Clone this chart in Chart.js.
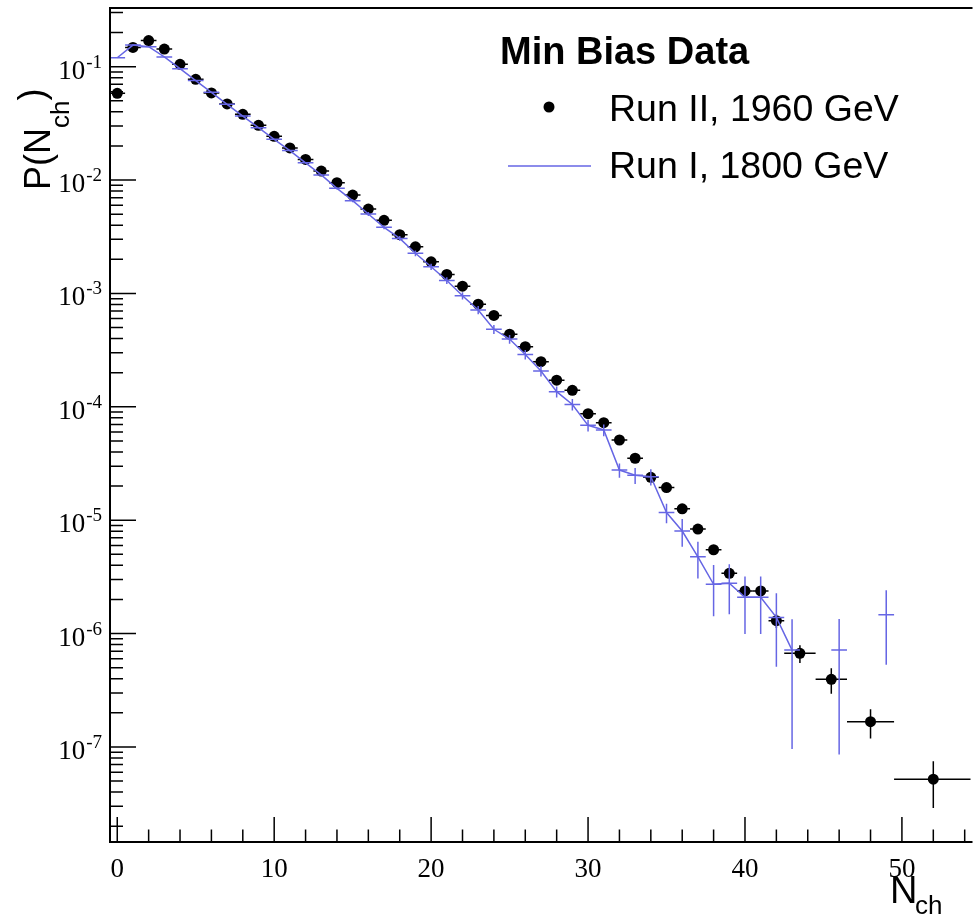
<!DOCTYPE html>
<html lang="en">
<head>
<meta charset="UTF-8">
<title>P(Nch) - Min Bias Data</title>
<script src="https://cdn.jsdelivr.net/npm/chart.js"></script>
<style>
  body, html { margin: 0; padding: 0; background: #fff; }
  #plot { display: block; }
</style>
</head>
<body>
<canvas id="plot" width="976" height="916"></canvas>
<script>
// Run II, 1960 GeV (black dots) - bin centres, values, half bin widths, errors
var runIIx = [0,1,2,3,4,5,6,7,8,9,10,11,12,13,14,15,16,17,18,19,20,21,22,23,24,25,26,27,28,29,30,31,32,33,34,35,36,37,38,39,40,41,42,43.5,45.5,48,52];
var runIIy = [0.0582,0.148,0.170,0.143,0.105,0.0774,0.0587,0.0469,0.0380,0.0304,0.0243,0.0192,0.0152,0.0120,0.00949,0.00738,0.00555,0.00442,0.00330,0.00258,0.00190,0.00147,0.00116,0.000805,0.00064,0.000437,0.000339,0.000250,0.000172,0.000140,8.7e-5,7.25e-5,5.1e-5,3.52e-5,2.39e-5,1.94e-5,1.26e-5,8.36e-6,5.49e-6,3.40e-6,2.38e-6,2.38e-6,1.30e-6,6.7e-7,3.95e-7,1.67e-7,5.2e-8];
var runIIxErr = [0.5,0.5,0.5,0.5,0.5,0.5,0.5,0.5,0.5,0.5,0.5,0.5,0.5,0.5,0.5,0.5,0.5,0.5,0.5,0.5,0.5,0.5,0.5,0.5,0.5,0.5,0.5,0.5,0.5,0.5,0.5,0.5,0.5,0.5,0.5,0.5,0.5,0.5,0.5,0.5,0.5,0.5,0.5,1,1,1.5,2.5];
var runIIyErr = [0,0,0,0,0,0,0,0,0,0,0,0,0,0,0,0,0,0,0,0,0,0,0,0,0,0,0,0,0,0,0,0,0,0,0,0,0,0,3e-7,3e-7,2.5e-7,2.5e-7,1.8e-7,1.2e-7,1.0e-7,4.8e-8,2.3e-8];

// Run I, 1800 GeV (blue line), empty bins are null
var runIx = [0,1,2,3,4,5,6,7,8,9,10,11,12,13,14,15,16,17,18,19,20,21,22,23,24,25,26,27,28,29,30,31,32,33,34,35,36,37,38,39,40,41,42,43,44,45,46,47,48,49];
var runIy = [0.120,0.155,0.150,0.122,0.096,0.0755,0.0594,0.0466,0.0367,0.0290,0.0229,0.0182,0.0142,0.0111,0.00846,0.00658,0.00502,0.00383,0.00306,0.00226,0.00172,0.00130,0.000955,0.000715,0.000483,0.000396,0.000290,0.000207,0.000136,0.000105,6.87e-5,6.25e-5,2.77e-5,2.49e-5,2.42e-5,1.17e-5,8.03e-6,4.76e-6,2.72e-6,2.78e-6,2.09e-6,2.09e-6,1.39e-6,7.16e-7,null,null,7.16e-7,null,null,1.47e-6];
var runIyErr = [0,0,0,0,0,0,0,0,0,0,0,0,0,2e-4,2e-4,2e-4,2e-4,1.5e-4,1.5e-4,1.3e-4,1.1e-4,9e-5,7e-5,6e-5,4.5e-5,3.5e-5,2.8e-5,2.2e-5,1.5e-5,1.2e-5,8e-6,7.5e-6,4e-6,4e-6,4e-6,2.3e-6,2.2e-6,1.7e-6,1.3e-6,1.3e-6,1.1e-6,1.1e-6,8.8e-7,6.2e-7,0,0,6.3e-7,0,0,9.4e-7];
var runIxErr = 0.5;

// axis ticks
var xMajorTicks = [0,10,20,30,40,50];
var xTickLabels = ['0','10','20','30','40','50'];
var xMinorTicks = [2,4,6,8,12,14,16,18,22,24,26,28,32,34,36,38,42,44,46,48,52,54];
var yDecades = [-1,-2,-3,-4,-5,-6,-7];
var yDecadeLabels = ['-1','-2','-3','-4','-5','-6','-7'];
var yMinorDecades = [-8,-7,-6,-5,-4,-3,-2,-1];
var yMinorMult = [2,3,4,5,6,7,8,9];

var blue = 'rgb(102,102,228)';

function pairs(xs, ys) {
    var out = [];
    for (var i = 0; i < xs.length; i++) out.push({x: xs[i], y: ys[i]});
    return out;
}

// error bars, drawn right after their own dataset
var errorBars = {
    id: 'errorBars',
    afterDatasetDraw: function(chart, args) {
        var ds = chart.data.datasets[args.index];
        if (!ds.yErr) return;
        var ctx = chart.ctx, a = chart.chartArea;
        var xs = chart.scales.x, ys = chart.scales.y;
        ctx.save();
        ctx.beginPath();
        ctx.rect(a.left, a.top, a.right - a.left, a.bottom - a.top);
        ctx.clip();
        ctx.strokeStyle = ds.barColor;
        ctx.lineWidth = 1.5;
        ds.data.forEach(function(p, i) {
            if (p.y === null) return;
            var xe = Array.isArray(ds.xErr) ? ds.xErr[i] : ds.xErr;
            var px = xs.getPixelForValue(p.x);
            var py = ys.getPixelForValue(p.y);
            ctx.beginPath();
            ctx.moveTo(xs.getPixelForValue(p.x - xe), py);
            ctx.lineTo(xs.getPixelForValue(p.x + xe), py);
            var e = ds.yErr[i];
            if (e > 0) {
                var lo = p.y - e;
                ctx.moveTo(px, ys.getPixelForValue(p.y + e));
                ctx.lineTo(px, lo > 0 ? ys.getPixelForValue(lo) : a.bottom);
            }
            ctx.stroke();
        });
        ctx.restore();
    }
};

// ROOT style frame, inward ticks, labels, titles and legend
var frame = {
    id: 'frame',
    afterDraw: function(chart) {
        var ctx = chart.ctx, a = chart.chartArea;
        var xs = chart.scales.x, ys = chart.scales.y;
        ctx.save();
        ctx.strokeStyle = '#000';
        ctx.lineWidth = 2;
        ctx.beginPath();
        ctx.moveTo(a.right + 2, a.top);
        ctx.lineTo(a.left, a.top);
        ctx.lineTo(a.left, a.bottom);
        ctx.lineTo(a.right + 2, a.bottom);
        ctx.stroke();

        ctx.lineWidth = 1.5;
        ctx.beginPath();
        xMajorTicks.forEach(function(v) {
            var px = xs.getPixelForValue(v);
            ctx.moveTo(px, a.bottom); ctx.lineTo(px, a.bottom - 25);
        });
        xMinorTicks.forEach(function(v) {
            var px = xs.getPixelForValue(v);
            if (px > a.right) return;
            ctx.moveTo(px, a.bottom); ctx.lineTo(px, a.bottom - 12.5);
        });
        yDecades.forEach(function(d) {
            var py = ys.getPixelForValue(Math.pow(10, d));
            ctx.moveTo(a.left, py); ctx.lineTo(a.left + 26, py);
        });
        yMinorDecades.forEach(function(d) {
            yMinorMult.forEach(function(m) {
                var v = m * Math.pow(10, d);
                if (v < ys.min || v > ys.max) return;
                var py = ys.getPixelForValue(v);
                ctx.moveTo(a.left, py); ctx.lineTo(a.left + 13, py);
            });
        });
        ctx.stroke();

        // tick labels
        ctx.fillStyle = '#000';
        ctx.textBaseline = 'alphabetic';
        ctx.font = '27px "Liberation Serif", "Times New Roman", serif';
        ctx.textAlign = 'center';
        xMajorTicks.forEach(function(v, i) {
            ctx.fillText(xTickLabels[i], xs.getPixelForValue(v), a.bottom + 35);
        });
        ctx.textAlign = 'right';
        yDecades.forEach(function(d, i) {
            var py = ys.getPixelForValue(Math.pow(10, d));
            ctx.font = '19px "Liberation Serif", "Times New Roman", serif';
            var w = ctx.measureText(yDecadeLabels[i]).width;
            ctx.fillText(yDecadeLabels[i], 102, py + 1);
            ctx.font = '27px "Liberation Serif", "Times New Roman", serif';
            ctx.fillText('10', 102 - w - 1, py + 12);
        });

        // axis titles
        ctx.textAlign = 'left';
        ctx.font = '38px "Liberation Sans", Arial, sans-serif';
        ctx.fillText('N', 890, 903);
        ctx.font = '26px "Liberation Sans", Arial, sans-serif';
        ctx.fillText('ch', 915, 914);

        ctx.save();
        ctx.translate(50, 190);
        ctx.rotate(-Math.PI / 2);
        ctx.font = '36px "Liberation Sans", Arial, sans-serif';
        ctx.fillText('P(N', 0, 0);
        var w1 = ctx.measureText('P(N').width;
        ctx.font = '26px "Liberation Sans", Arial, sans-serif';
        ctx.fillText('ch', w1, 19);
        var w2 = ctx.measureText('ch').width;
        ctx.font = '36px "Liberation Sans", Arial, sans-serif';
        ctx.fillText(')', w1 + w2, -6);
        ctx.restore();

        // legend
        ctx.font = 'bold 38px "Liberation Sans", Arial, sans-serif';
        ctx.fillText('Min Bias Data', 500, 64);
        ctx.font = '37.5px "Liberation Sans", Arial, sans-serif';
        ctx.fillText('Run II, 1960 GeV', 609, 121);
        ctx.fillText('Run I, 1800 GeV', 609, 178);
        ctx.beginPath();
        ctx.arc(549, 107, 5.5, 0, Math.PI * 2);
        ctx.fill();
        ctx.strokeStyle = blue;
        ctx.lineWidth = 1.5;
        ctx.beginPath();
        ctx.moveTo(508, 166); ctx.lineTo(591, 166);
        ctx.stroke();
        ctx.restore();
    }
};

var chart = new Chart(document.getElementById('plot'), {
    type: 'scatter',
    data: {
        datasets: [{
            label: 'Run II, 1960 GeV',
            data: pairs(runIIx, runIIy),
            xErr: runIIxErr,
            yErr: runIIyErr,
            barColor: '#000',
            backgroundColor: '#000',
            borderWidth: 0,
            pointRadius: 5.5,
            showLine: false,
            order: 2
        }, {
            label: 'Run I, 1800 GeV',
            data: pairs(runIx, runIy),
            xErr: runIxErr,
            yErr: runIyErr,
            barColor: blue,
            borderColor: blue,
            borderWidth: 1.5,
            pointRadius: 0,
            showLine: true,
            spanGaps: false,
            tension: 0,
            order: 1
        }]
    },
    options: {
        responsive: false,
        animation: false,
        devicePixelRatio: 1,
        layout: { padding: { left: 110, right: 0, top: 8, bottom: 74 } },
        scales: {
            x: { type: 'linear', min: -0.462, max: 54.37, display: false },
            y: { type: 'logarithmic', min: 1.452e-8, max: 0.3294, display: false }
        },
        plugins: {
            legend: { display: false },
            tooltip: { enabled: false }
        }
    },
    plugins: [errorBars, frame]
});
</script>
</body>
</html>
